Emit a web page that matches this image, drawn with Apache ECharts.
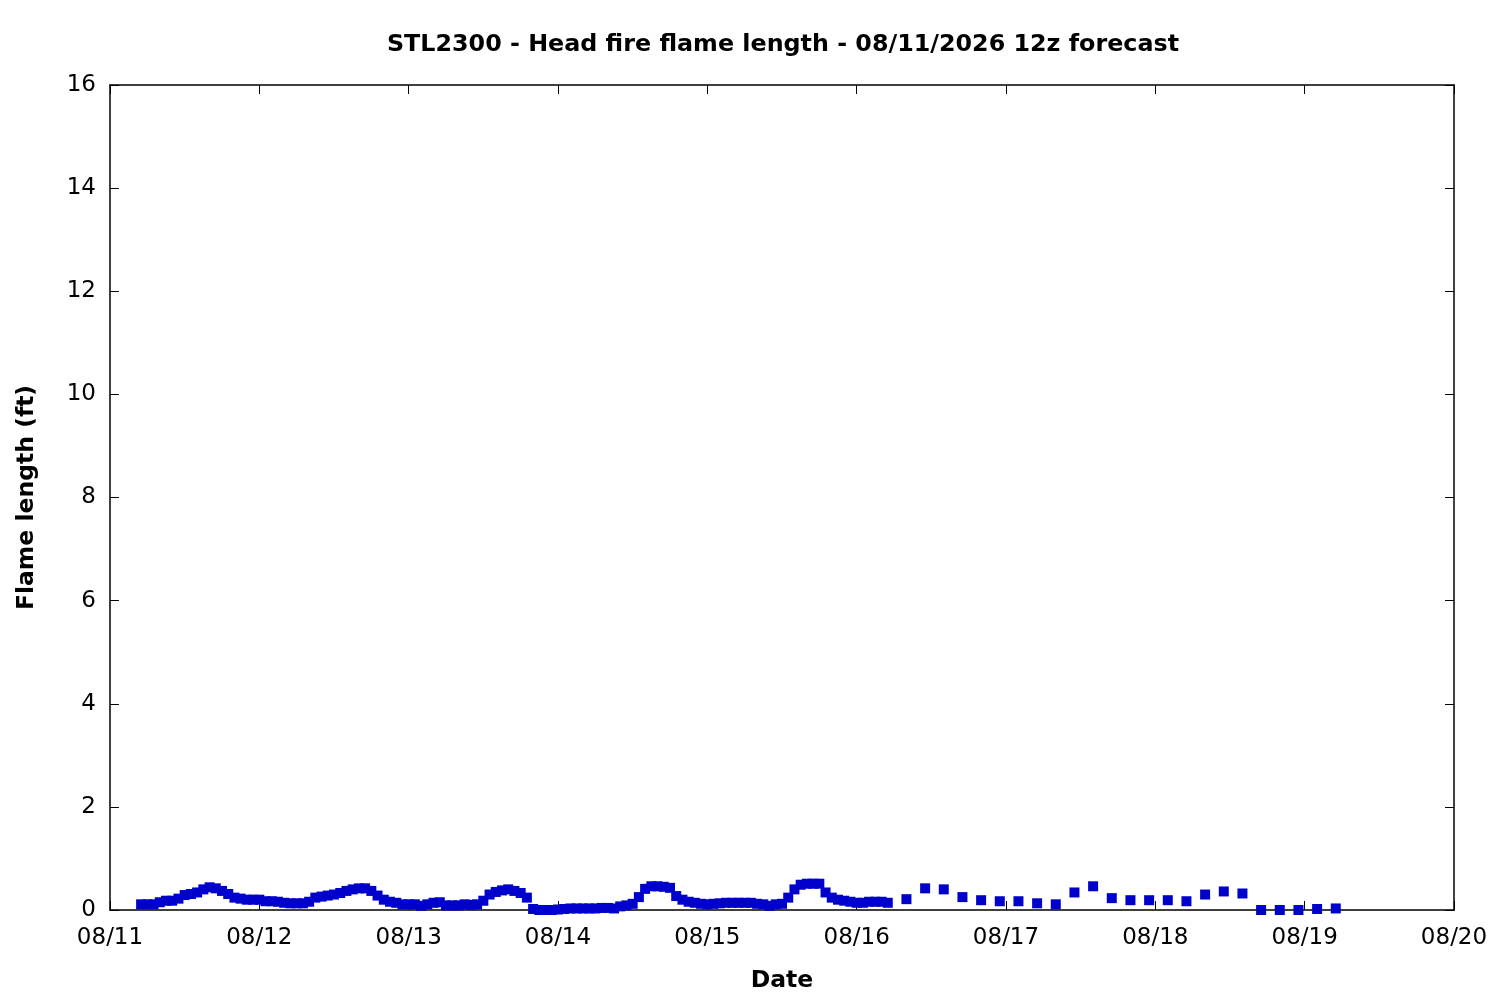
<!DOCTYPE html>
<html>
<head>
<meta charset="utf-8">
<script src="https://cdn.jsdelivr.net/npm/echarts@6/dist/echarts.min.js"></script>
<style>
html,body{margin:0;padding:0;background:#fff;}
#chart{width:1500px;height:1000px;}
</style>
</head>
<body>
<div id="chart"></div>
<script>
// Tick labels (one per day, starting 08/11 00:00)
const dateLabels = ['08/11','08/12','08/13','08/14','08/15','08/16','08/17','08/18','08/19','08/20'];
const yTicks = [0,2,4,6,8,10,12,14,16];

// Hourly forecast: first value at hour 5 after 08/11 00:00
const hourlyStartHour = 5;
const hourlyValues = [
  0.11,0.11,0.11,0.15,0.18,0.18,0.22,0.29,0.31,0.34,0.40,0.44,0.42,0.37,0.31,0.24,0.22,0.20,0.20,0.20,
  0.17,0.17,0.16,0.14,0.13,0.13,0.13,0.16,0.24,0.26,0.28,0.30,0.33,0.37,0.40,0.42,0.42,0.37,0.28,0.20,
  0.16,0.14,0.11,0.11,0.11,0.08,0.11,0.14,0.15,0.09,0.09,0.09,0.11,0.10,0.11,0.18,0.30,0.35,0.38,0.40,
  0.37,0.33,0.24,0.02,0.00,0.00,0.00,0.01,0.02,0.03,0.03,0.03,0.03,0.03,0.04,0.04,0.03,0.07,0.09,0.12,
  0.25,0.41,0.46,0.46,0.45,0.43,0.27,0.20,0.16,0.14,0.12,0.11,0.12,0.13,0.14,0.14,0.14,0.14,0.14,0.12,
  0.11,0.08,0.11,0.12,0.24,0.40,0.49,0.51,0.51,0.51,0.34,0.24,0.20,0.18,0.16,0.14,0.14,0.16,0.16,0.16,
  0.14
];

// 3-hourly forecast: first value at hour 128 after 08/11 00:00
const threeHourlyStartHour = 128;
const threeHourlyValues = [
  0.21,0.42,0.40,0.25,0.19,0.17,0.17,0.13,0.11,0.34,0.46,0.23,
  0.19,0.19,0.19,0.17,0.30,0.36,0.32,0.00,0.00,0.00,0.02,0.03
];

const points = [];
hourlyValues.forEach((v, i) => points.push([hourlyStartHour + i, v]));
threeHourlyValues.forEach((v, i) => points.push([threeHourlyStartHour + 3 * i, v]));

const FONT = 'DejaVu Sans';
const chart = echarts.init(document.getElementById('chart'), null, {renderer: 'canvas'});

const axisLine = {show: true, onZero: false, lineStyle: {color: '#000', width: 1.5}};
const tickIn = {show: true, inside: true, length: 9, lineStyle: {color: '#000', width: 1}};

chart.setOption({
  backgroundColor: '#fff',
  animation: false,
  title: {
    text: 'STL2300 - Head fire flame length - 08/11/2026 12z forecast',
    left: 778, top: 28, textAlign: 'center',
    textStyle: {fontFamily: FONT, fontSize: 23.8, fontWeight: 'bold', color: '#000'}
  },
  grid: {left: 110, right: 46, top: 85, bottom: 90, containLabel: false},
  xAxis: [{
    type: 'value', min: 0, max: 216, interval: 24,
    name: 'Date', nameLocation: 'middle', nameGap: 59,
    nameTextStyle: {fontFamily: FONT, fontSize: 23.5, fontWeight: 'bold', color: '#000'},
    axisLine: axisLine, axisTick: tickIn, splitLine: {show: false},
    axisLabel: {fontFamily: FONT, fontSize: 23, color: '#000', margin: 17,
      formatter: v => dateLabels[Math.round(v / 24)] || ''}
  }, {
    type: 'value', min: 0, max: 216, interval: 24, position: 'top',
    axisLine: axisLine, axisTick: tickIn, axisLabel: {show: false}, splitLine: {show: false}
  }],
  yAxis: [{
    type: 'value', min: yTicks[0], max: yTicks[yTicks.length - 1], interval: 2,
    name: 'Flame length (ft)', nameLocation: 'middle', nameGap: 71, nameRotate: 90,
    nameTextStyle: {fontFamily: FONT, fontSize: 23.5, fontWeight: 'bold', color: '#000'},
    axisLine: axisLine, axisTick: tickIn, splitLine: {show: false},
    axisLabel: {fontFamily: FONT, fontSize: 23, color: '#000', margin: 14}
  }, {
    type: 'value', min: 0, max: 16, interval: 2, position: 'right',
    axisLine: axisLine, axisTick: tickIn, axisLabel: {show: false}, splitLine: {show: false}
  }],
  series: [{
    type: 'scatter',
    xAxisIndex: 0, yAxisIndex: 0,
    data: points,
    symbol: 'rect',
    symbolSize: 10,
    itemStyle: {color: '#0000cc', opacity: 1},
    clip: false
  }]
});
</script>
</body>
</html>
